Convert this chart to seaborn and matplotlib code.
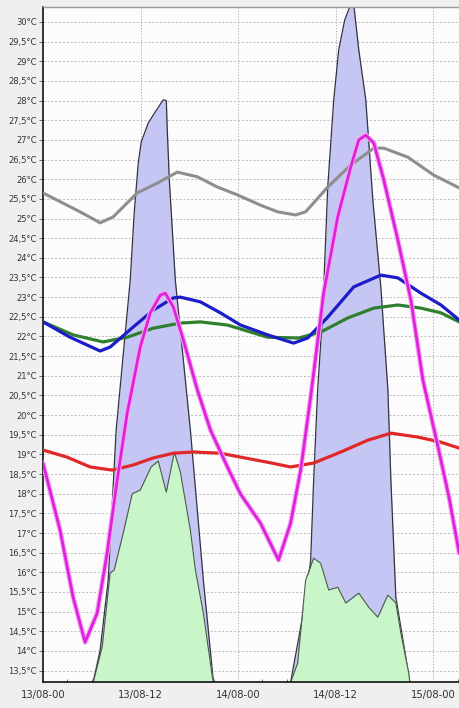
import numpy as np
import pandas as pd
import matplotlib
matplotlib.use("Agg")
import matplotlib.pyplot as plt
import matplotlib.ticker as mticker
import seaborn as sns

# ---- data (hours since 13/08 00:00, temperature in °C) ----
gray_t = [0, 4.56, 7.03, 8.63, 11.59, 14.06, 16.53, 19.0, 21.46, 23.93, 26.76, 28.86, 31.08, 32.31, 35.03, 37.86, 40.7, 41.93, 44.89, 48.1, 51.2]
gray_v = [25.65, 25.17, 24.89, 25.04, 25.65, 25.9, 26.18, 26.06, 25.8, 25.6, 25.34, 25.17, 25.09, 25.17, 25.8, 26.36, 26.79, 26.79, 26.56, 26.1, 25.78]

blue_t = [0, 3.33, 7.03, 8.26, 11.1, 13.57, 16.03, 16.9, 19.36, 21.83, 24.3, 27.63, 30.83, 32.56, 35.03, 38.23, 41.56, 43.66, 46.5, 48.96, 51.2]
blue_v = [22.37, 21.98, 21.63, 21.73, 22.24, 22.67, 22.98, 23.0, 22.88, 22.6, 22.29, 22.04, 21.83, 21.96, 22.49, 23.26, 23.56, 23.49, 23.1, 22.8, 22.42]

green_t = [0, 3.7, 7.4, 10.36, 13.57, 16.9, 19.36, 22.69, 24.3, 27.63, 31.45, 34.16, 37.49, 40.7, 43.66, 46.5, 48.96, 51.2]
green_v = [22.37, 22.04, 21.86, 21.98, 22.21, 22.34, 22.37, 22.29, 22.19, 21.98, 21.96, 22.11, 22.47, 22.72, 22.8, 22.72, 22.6, 22.37]

red_t = [0, 2.96, 5.8, 8.51, 11.1, 13.57, 16.03, 18.5, 21.83, 24.3, 27.63, 30.46, 33.3, 36.63, 39.96, 42.8, 46.13, 48.96, 51.2]
red_v = [19.11, 18.93, 18.68, 18.6, 18.73, 18.91, 19.03, 19.06, 19.03, 18.93, 18.8, 18.68, 18.78, 19.06, 19.36, 19.54, 19.44, 19.31, 19.16]

mag_t = [0, 2.1, 3.7, 5.18, 6.66, 7.89, 9.13, 10.36, 11.96, 13.2, 14.43, 15.05, 16.03, 17.27, 18.99, 20.6, 22.69, 24.3, 26.76, 28.98, 30.46, 31.7, 32.93, 34.53, 36.26, 37.86, 38.85, 39.71, 40.7, 41.93, 43.66, 45.26, 46.74, 48.6, 49.95, 51.2]
mag_v = [18.78, 17.07, 15.37, 14.22, 14.96, 16.49, 18.35, 20.05, 21.73, 22.6, 23.05, 23.1, 22.75, 21.91, 20.64, 19.62, 18.68, 17.99, 17.25, 16.31, 17.25, 18.6, 20.46, 23.1, 25.04, 26.31, 27.0, 27.12, 26.92, 25.98, 24.45, 22.93, 20.89, 19.19, 17.91, 16.49]

lav1_t = [6.17, 7.03, 8.02, 9.0, 10.73, 11.22, 11.72, 12.09, 12.95, 13.81, 14.8, 15.17, 15.29, 15.54, 16.28, 18.13, 19.73, 20.97]
lav1_v = [13.2, 14.02, 15.8, 19.62, 23.43, 25.14, 26.41, 26.95, 27.43, 27.71, 28.02, 28.0, 27.25, 25.98, 23.43, 19.62, 15.8, 13.2]
lav2_t = [30.46, 32.31, 32.93, 33.3, 33.79, 34.41, 35.03, 35.77, 36.38, 37.12, 37.86, 38.23, 38.85, 39.71, 40.58, 41.56, 42.43, 42.8, 43.41, 45.14]
lav2_v = [13.2, 15.29, 16.31, 18.35, 20.64, 22.6, 25.8, 28.02, 29.29, 30.05, 30.45, 30.45, 29.29, 28.02, 25.47, 23.26, 20.64, 18.35, 15.37, 13.2]

grn1_t = [6.17, 7.28, 8.26, 8.76, 9.87, 10.98, 11.96, 13.3, 14.18, 15.17, 16.16, 16.9, 18.13, 18.75, 19.73, 20.84, 20.97]
grn1_v = [13.2, 14.1, 15.98, 16.06, 17.0, 18.0, 18.09, 18.68, 18.83, 18.04, 19.06, 18.55, 17.07, 16.06, 14.96, 13.33, 13.2]
grn2_t = [30.46, 31.33, 32.31, 33.3, 34.16, 35.15, 36.26, 37.25, 38.85, 40.08, 41.19, 42.43, 43.41, 44.03, 45.0, 45.14]
grn2_v = [13.2, 13.69, 15.8, 16.36, 16.23, 15.55, 15.62, 15.22, 15.47, 15.11, 14.86, 15.42, 15.22, 14.45, 13.43, 13.2]

x_ticks = [0, 12, 24, 36, 48]
x_labels = ["13/08-00", "13/08-12", "14/08-00", "14/08-12", "15/08-00"]
y_ticks = [13.5 + 0.5 * i for i in range(34)]

# ---- figure ----
sns.set_theme(style="white")
plt.rcParams['font.family'] = ['DejaVu Sans']
fig = plt.figure(figsize=(4.59, 7.08), dpi=100, facecolor="#efefef")
ax = fig.add_axes([43 / 459, 1 - 682 / 708, 1 - 43 / 459, (682 - 7) / 708])
ax.set_facecolor("#fcfcfc")

YMIN, YMAX = 13.21, 30.38
ax.set_xlim(0, 51.18)
ax.set_ylim(YMIN, YMAX)

# grid
for yt in y_ticks:
    ax.axhline(yt, color="#bcbcbc", lw=0.7, ls=(0, (2, 2)), zorder=0.5)
for xt in x_ticks[1:]:
    ax.axvline(xt, color="#a8a8a8", lw=0.7, ls=(0, (1.2, 1.8)), zorder=0.5)

base = 12.5
edge = "#33333f"
for t, v in [(lav1_t, lav1_v), (lav2_t, lav2_v)]:
    ax.fill_between(t, base, v, color="#c6c6f4", lw=0, zorder=1)
    sns.lineplot(x=t, y=v, ax=ax, color=edge, lw=0.9, estimator=None, sort=False, zorder=1.2)
for t, v in [(grn1_t, grn1_v), (grn2_t, grn2_v)]:
    ax.fill_between(t, base, v, color="#c8f6c8", lw=0, zorder=1.5)
    sns.lineplot(x=t, y=v, ax=ax, color="#4a5a4a", lw=0.8, estimator=None, sort=False, zorder=1.6)

df_lines = [
    (gray_t, gray_v, "#8e8e8e", 2.2),
    (red_t, red_v, "#e02828", 2.3),
    (green_t, green_v, "#2f7f2f", 2.3),
    (blue_t, blue_v, "#1c1cc8", 2.3),
]
for t, v, c, lw in df_lines:
    d = pd.DataFrame({"t": t, "v": v})
    sns.lineplot(data=d, x="t", y="v", ax=ax, color=c, lw=lw, estimator=None, zorder=3)

dm = pd.DataFrame({"t": mag_t, "v": mag_v})
sns.lineplot(data=dm, x="t", y="v", ax=ax, color="#f7a8f0", lw=3.6, estimator=None, zorder=3.4)
sns.lineplot(data=dm, x="t", y="v", ax=ax, color="#dc22dc", lw=2.0, estimator=None, zorder=3.5)

# axes styling
ax.set_xlabel("")
ax.set_ylabel("")
ax.set_xticks(x_ticks)
ax.set_xticklabels(x_labels, fontsize=7.2, color="#333333")
ax.xaxis.set_minor_locator(mticker.MultipleLocator(3))
ax.set_yticks(y_ticks)
ax.set_yticklabels([(f"{y:g}".replace(".", ",") + "°C") for y in y_ticks], fontsize=6.0, color="#333333")
ax.tick_params(axis="x", which="major", direction="in", length=4, width=0.6, pad=6, colors="#555555", labelcolor="#333333")
ax.tick_params(axis="x", which="minor", direction="in", length=2.5, width=0.6, colors="#555555", bottom=True)
ax.tick_params(axis="y", direction="out", length=3, width=0.6, pad=1.5, colors="#555555", labelcolor="#333333", left=True)

for s in ["left", "bottom"]:
    ax.spines[s].set_color("#111111")
    ax.spines[s].set_linewidth(1.2)
ax.spines["top"].set_color("#999999")
ax.spines["top"].set_linewidth(1.0)
ax.spines["right"].set_visible(False)

fig.savefig("out.png", dpi=100, facecolor=fig.get_facecolor())
